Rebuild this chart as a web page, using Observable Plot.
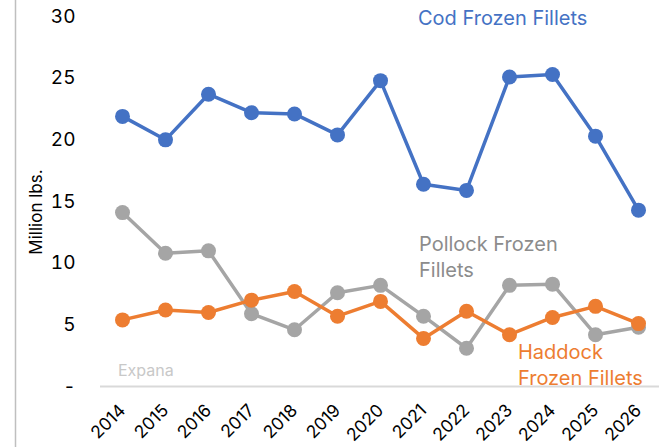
<!DOCTYPE html>
<html>
<head>
<meta charset="utf-8">
<script src="https://cdn.jsdelivr.net/npm/d3@7"></script>
<script src="https://cdn.jsdelivr.net/npm/@observablehq/plot@0.6"></script>
<style>
  html, body { margin: 0; padding: 0; background: #fff; }
  #chart { position: relative; width: 659px; height: 447px; }
</style>
</head>
<body>
<div id="chart"></div>
<script>
const years = ["2014","2015","2016","2017","2018","2019","2020","2021","2022","2023","2024","2025","2026"];
const cod = [21.9, 20.0, 23.7, 22.2, 22.1, 20.4, 24.8, 16.4, 15.9, 25.1, 25.3, 20.3, 14.3];
const pollock = [14.1, 10.8, 11.0, 5.9, 4.6, 7.6, 8.2, 5.7, 3.1, 8.2, 8.3, 4.2, 4.8];
const haddock = [5.4, 6.2, 6.0, 7.0, 7.7, 5.7, 6.9, 3.9, 6.1, 4.2, 5.6, 6.5, 5.1];
const seriesNames = ["Cod Frozen Fillets", "Pollock Frozen Fillets", "Haddock Frozen Fillets"];
const seriesColors = ["#4472C4", "#A5A5A5", "#ED7D31"];
const yTicks = [0, 5, 10, 15, 20, 25, 30];

const rows = [];
[cod, pollock, haddock].forEach((vals, si) => {
  vals.forEach((v, i) => rows.push({year: years[i], value: v, series: seriesNames[si]}));
});
const order = ["Pollock Frozen Fillets", "Haddock Frozen Fillets", "Cod Frozen Fillets"];
const ordered = order.flatMap(s => rows.filter(r => r.series === s));

const font = "Inter, 'Noto Sans', sans-serif";

const plot = Plot.plot({
  width: 659,
  height: 447,
  marginLeft: 100,
  marginRight: 0,
  marginTop: 16,
  marginBottom: 61,
  style: {fontFamily: font, fontSize: "19px", color: "#000", background: "#fff", overflow: "visible"},
  x: {type: "point", domain: years, padding: 0.5, label: null},
  y: {domain: [0, 30], label: null},
  color: {domain: seriesNames, range: seriesColors},
  marks: [
    Plot.ruleY([0], {stroke: "#D9D9D9", strokeWidth: 2}),
    Plot.axisY({ticks: yTicks, tickSize: 0, tickPadding: 25, tickFormat: d => d === 0 ? "-" : String(d), fontSize: 19, label: null}),
    Plot.axisX({tickSize: 0, tickRotate: -45, tickPadding: 21, fontSize: 17.5, label: null}),
    Plot.line(ordered, {x: "year", y: "value", z: "series", stroke: "series", strokeWidth: 3.5}),
    Plot.dot(ordered, {x: "year", y: "value", fill: "series", r: 7.5})
  ]
});

const chart = document.getElementById("chart");
chart.appendChild(plot);

const svg = d3.select(plot);
svg.append("line").attr("x1", 15.5).attr("x2", 15.5).attr("y1", 0).attr("y2", 447)
  .attr("stroke", "#BFBFBF").attr("stroke-width", 1.5);
svg.append("text").attr("transform", "translate(42,212) rotate(-90)")
  .attr("text-anchor", "middle").attr("font-size", 17).attr("fill", "#000")
  .attr("font-family", font).text("Million lbs.");
function label(lines, x, y, color, size) {
  const t = svg.append("text").attr("x", x).attr("y", y).attr("fill", color)
    .attr("font-size", size).attr("font-family", font).attr("text-anchor", "start");
  lines.forEach((l, i) => t.append("tspan").attr("x", x).attr("dy", i === 0 ? 0 : size * 1.3).text(l));
}
label(["Cod Frozen Fillets"], 418, 25, seriesColors[0], 20);
label(["Pollock Frozen", "Fillets"], 419, 251, "#8C8C8C", 20);
label(["Haddock", "Frozen Fillets"], 518, 359, seriesColors[2], 20);
label(["Expana"], 118, 376, "#C8C8C8", 16);
</script>
</body>
</html>
